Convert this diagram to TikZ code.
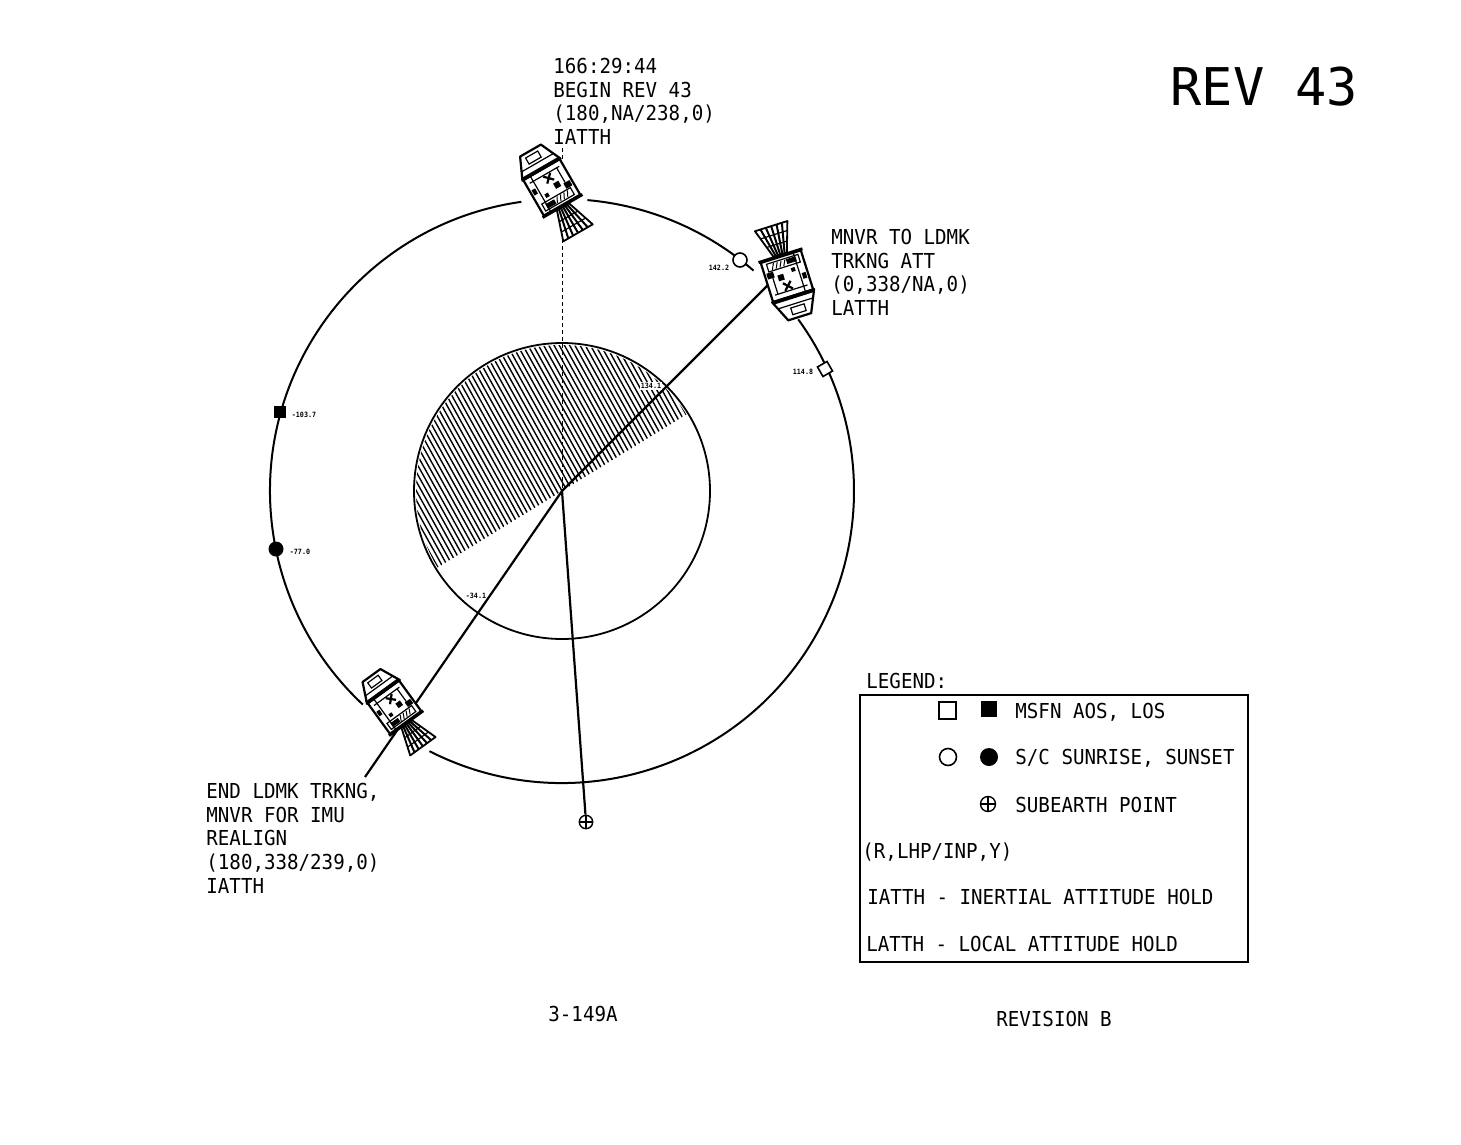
\documentclass[tikz,border=0pt]{standalone}
\usepackage{fontspec}
\newfontfamily\lblfont[FakeStretch=0.93]{DejaVu Sans Mono}
\newfontfamily\bigfont{DejaVu Sans Mono}
\begin{document}
\begin{tikzpicture}[x=0.5pt,y=0.5pt,
  lbltext/.style={font=\lblfont\fontsize{10.3}{11.8}\selectfont, inner sep=0pt, anchor=north west, align=left},
  tinylbl/.style={font=\lblfont\bfseries\fontsize{3.6}{4}\selectfont, inner sep=0pt},
  orbit/.style={line width=1pt},
  radial/.style={line width=1.1pt},
  dashline/.style={line width=0.5pt, dash pattern=on 2pt off 1.5pt},
  hatchline/.style={line width=0.7pt},
  openc/.style={circle, draw, fill=white, line width=0.8pt, minimum size=#1, inner sep=0pt},
  fillc/.style={circle, fill=black, minimum size=#1, inner sep=0pt},
  opens/.style={rectangle, draw, fill=white, line width=0.8pt, minimum size=#1, inner sep=0pt},
  fills/.style={rectangle, fill=black, minimum size=#1, inner sep=0pt},
  subearth/.style={circle, draw, fill=white, line width=0.7pt, minimum size=#1, inner sep=0pt,
     path picture={\draw[line width=0.6pt] (path picture bounding box.north) -- (path picture bounding box.south) (path picture bounding box.west) -- (path picture bounding box.east);}},
  csm/.pic={
    % nozzle
    \filldraw[fill=white,line width=0.9pt,line join=round] (-7,-16) -- (7,-16) -- (17,-46) -- (-17,-46) -- cycle;
    \foreach \t in {-0.66,-0.33,0,0.33,0.66} \draw[line width=1pt] ({7*\t},-16) -- ({17*\t},-46);
    \draw[line width=0.6pt] (-10,-27) -- (10,-27) (-14,-37) -- (14,-37);
    % skirt
    \draw[line width=1.5pt] (-23,-15) -- (23,-15);
    % service module
    \filldraw[fill=white,line width=1.1pt] (-21,-14) rectangle (21,27);
    \draw[line width=0.6pt] (-13,-14) -- (-13,27);
    \draw[line width=0.6pt] (-17,-11) rectangle (16,-3);
    \fill (-14,-10) rectangle (-4,-5);
    \draw[line width=0.5pt] (-3,-10) -- (0,-4) (1,-10) -- (4,-4) (5,-10) -- (8,-4) (9,-10) -- (12,-4);
    \fill (3,3) rectangle (9,9) (12,-2) rectangle (19,4) (-10,0) rectangle (-6,4) (-19,8) rectangle (-15,14);
    \draw[line width=1.1pt] (-2,12) -- (6,20) (-2,20) -- (6,12);
    \draw[line width=0.6pt] (-17,21) -- (17,21);
    \draw[line width=0.6pt] (14,4) -- (14,21);
    % command module
    \filldraw[fill=white,line width=1.1pt,line join=round] (-22,27) -- (22,27) -- (12,49) -- (-12,49) -- cycle;
    \draw[line width=1.7pt] (-22,28) -- (22,28);
    \draw[line width=0.6pt] (-18,35) -- (18,35);
    \draw[line width=0.6pt] (-8,38) rectangle (6,45);
  },
]
\useasboundingbox (0,0) rectangle (1461,-1145);
\coordinate (ctr) at (562,-491);
\coordinate (topEnd) at (562,-148);
\coordinate (urEnd) at (774,-279);
\coordinate (llEnd) at (365,-777);

% hatched half of the inner disk
\begin{scope}
  \clip (ctr) -- ++(31.6:146) arc[start angle=31.6, end angle=211.6, radius=146] -- cycle;
  \foreach \i in {-34,...,34}
    \draw[hatchline] ({562+5.2*\i-0.485*180},{-491+0.875*180}) -- ({562+5.2*\i+0.485*180},{-491-0.875*180});
\end{scope}
\draw[line width=0.9pt] (ctr) circle[radius=148];

% orbit
\draw[orbit] (ctr) ++(49:292) arc[start angle=49, end angle=85, radius=292];
\draw[orbit] (ctr) ++(98:292) arc[start angle=98, end angle=227, radius=292];
\draw[orbit] (ctr) ++(243:292) arc[start angle=243, end angle=396, radius=292];

% subearth point
\node[subearth=6.7pt] (se) at (586,-822) {};

% radial lines
\draw[dashline] (topEnd) -- (ctr);
\draw[radial] (ctr) -- (urEnd);
\draw[radial] (ctr) -- (llEnd);
\draw[radial] (ctr) -- (se);

% spacecraft
\pic[rotate=30] at (555,-193) {csm};
\pic[rotate=197.5] at (785,-270) {csm};
\pic[rotate=36, scale=0.92] at (398,-712) {csm};

% orbit markers
\node[openc=7pt] (m1422) at (740,-260) {};
\node[opens=5.5pt, rotate=30] (m1148) at (825,-369) {};
\node[fills=6pt] (m1037) at (280,-412) {};
\node[fillc=7.5pt] (m770) at (276,-549) {};

% small value labels
\node[tinylbl] (l1422) at (719,-268) {142.2};
\node[tinylbl] (l1148) at (803,-372) {114.8};
\node[tinylbl] (l1037) at (304,-415) {-103.7};
\node[tinylbl] (l770) at (300,-552) {-77.0};
\node[tinylbl, fill=white, inner sep=0.6pt] (l1341) at (651,-386) {134.1};
\node[tinylbl] (l341) at (476,-596) {-34.1};

% event labels
\node[lbltext] (tTop) at (553,-58) {166:29:44\\BEGIN REV 43\\(180,NA/238,0)\\IATTH};
\node[lbltext] (tRight) at (831,-229) {MNVR TO LDMK\\TRKNG ATT\\(0,338/NA,0)\\LATTH};
\node[lbltext] (tLL) at (206,-783) {END LDMK TRKNG,\\MNVR FOR IMU\\REALIGN\\(180,338/239,0)\\IATTH};

% title
\node[font=\bigfont\fontsize{26}{30}\selectfont, inner sep=0pt, anchor=north west] (title) at (1170,-67) {REV 43};

% legend
\node[lbltext] (legT) at (866,-673) {LEGEND:};
\draw[line width=0.8pt] (860,-695) rectangle (1248,-962);
\node[opens=8.5pt] (lg1) at (947.5,-710.5) {};
\node[fills=8pt] (lg2) at (988.5,-708.5) {};
\node[lbltext] (lgt1) at (1015,-703) {MSFN AOS, LOS};
\node[openc=8.5pt] (lg3) at (948,-757) {};
\node[fillc=9pt] (lg4) at (989,-757) {};
\node[lbltext] (lgt2) at (1015,-749) {S/C SUNRISE, SUNSET};
\node[subearth=7.5pt] (lg5) at (988,-804) {};
\node[lbltext] (lgt3) at (1015,-797) {SUBEARTH POINT};
\node[lbltext] (lgt4) at (862,-842) {(R,LHP/INP,Y)};
\node[lbltext] (lgt5) at (867,-889) {IATTH - INERTIAL ATTITUDE HOLD};
\node[lbltext] (lgt6) at (866,-936) {LATTH - LOCAL ATTITUDE HOLD};

% footer
\node[lbltext, anchor=north] (fig) at (583,-1006) {3-149A};
\node[lbltext, anchor=north] (rev) at (1054,-1011) {REVISION B};
\end{tikzpicture}
\end{document}
